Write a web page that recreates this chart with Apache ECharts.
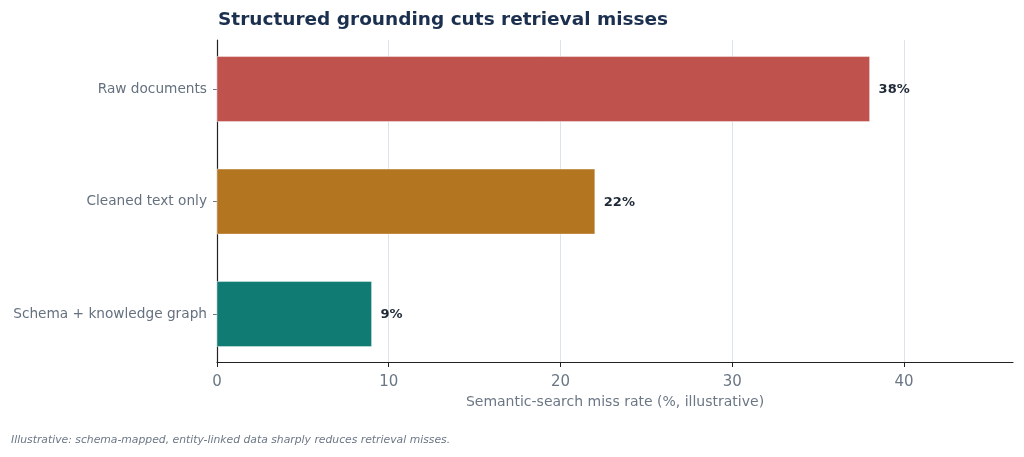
<!DOCTYPE html>
<html>
<head>
<meta charset="utf-8">
<script src="https://cdn.jsdelivr.net/npm/echarts@6/dist/echarts.min.js"></script>
<style>html,body{margin:0;padding:0;background:#fff}#c{width:1024px;height:457px}</style>
</head>
<body>
<div id="c"></div>
<script>
const categories = ['Raw documents', 'Cleaned text only', 'Schema + knowledge graph'];
const values = [38, 22, 9];
const barColors = ['#c0524d', '#b3751f', '#0f7b73'];
const xTicks = [0, 10, 20, 30, 40];

const chart = echarts.init(document.getElementById('c'), null, {renderer: 'canvas'});
const FONT = 'DejaVu Sans';
chart.setOption({
  backgroundColor: '#ffffff',
  animation: false,
  title: {
    text: 'Structured grounding cuts retrieval misses',
    left: 218, top: 11, padding: 0,
    textStyle: {fontFamily: FONT, fontSize: 18.5, fontWeight: 'bold', color: '#1b2f4e'}
  },
  grid: {left: 217, right: 11, top: 40, bottom: 95, containLabel: false},
  xAxis: {
    type: 'value', min: 0, max: 46.35, interval: 10,
    axisLine: {show: true, onZero: false, lineStyle: {color: '#222', width: 1.2}},
    axisTick: {show: true, length: 5, lineStyle: {color: '#222'}, customValues: xTicks},
    axisLabel: {fontFamily: FONT, fontSize: 15, color: '#6b7785', margin: 13, customValues: xTicks},
    splitLine: {show: true, lineStyle: {color: '#dde3ea', width: 1}},
    name: 'Semantic-search miss rate (%, illustrative)',
    nameLocation: 'middle', nameGap: 33,
    nameTextStyle: {fontFamily: FONT, fontSize: 14, color: '#6b7785'}
  },
  yAxis: {
    type: 'value', min: -0.436, max: 2.426, inverse: true,
    axisLine: {show: true, onZero: false, lineStyle: {color: '#222', width: 1.2}},
    axisTick: {show: true, length: 4, lineStyle: {color: '#6b7785'}, customValues: [0, 1, 2]},
    axisLabel: {
      fontFamily: FONT, fontSize: 13.7, color: '#65717f', margin: 10,
      customValues: [0, 1, 2],
      formatter: v => categories[Math.round(v)]
    },
    splitLine: {show: false}
  },
  series: [{
    type: 'custom',
    encode: {x: 1, y: 0},
    data: values.map((v, i) => [i, v]),
    renderItem: function (params, api) {
      const idx = api.value(0), val = api.value(1);
      const s = api.coord([0, idx]);
      const e = api.coord([val, idx]);
      const h = api.size([0, 0.578])[1];
      return {
        type: 'group',
        children: [
          {type: 'rect', shape: {x: s[0], y: s[1] - h / 2, width: e[0] - s[0], height: h},
           style: {fill: barColors[idx], stroke: 'rgba(255,255,255,0.5)', lineWidth: 0.8}},
          {type: 'text', style: {text: val + '%', x: e[0] + 9, y: e[1] + 1,
            verticalAlign: 'middle', align: 'left',
            font: 'bold 13px "DejaVu Sans"', fill: '#1f2937'}}
        ]
      };
    }
  }],
  graphic: [{
    type: 'text', left: 11, top: 435,
    style: {text: 'Illustrative: schema-mapped, entity-linked data sharply reduces retrieval misses.',
      font: 'italic 10.8px "DejaVu Sans"', fill: '#6b7785'}
  }]
});
</script>
</body>
</html>
